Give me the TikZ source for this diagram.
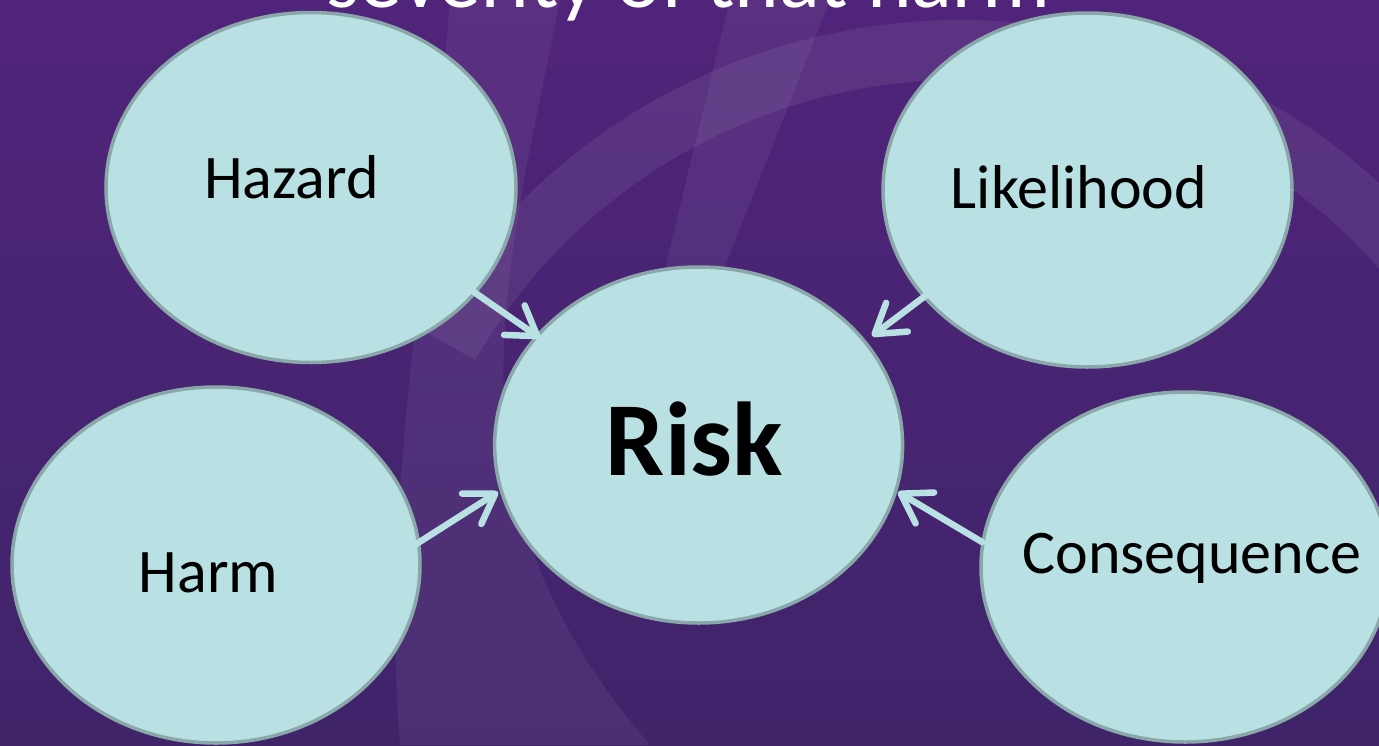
\documentclass[tikz,border=0pt]{standalone}
\usepackage{fontspec}
\setmainfont{Carlito}
\usetikzlibrary{shapes.geometric,arrows.meta}
\definecolor{bgtop}{RGB}{80,36,122}
\definecolor{bgbot}{RGB}{63,36,106}
\definecolor{bubfill}{RGB}{185,224,227}
\definecolor{bubline}{RGB}{138,168,170}
\definecolor{arrcol}{RGB}{185,224,227}
\tikzset{
  bubble/.style={ellipse, draw=bubline, line width=3.5pt, fill=bubfill, inner sep=0pt},
  lbl/.style={anchor=base, inner sep=0pt, text=black, font=\fontsize{62}{74}\selectfont},
  conn/.style={draw=arrcol, line width=6.5pt, line cap=round,
    -{Straight Barb[length=28pt, width=36pt, line cap=round, line join=round]}},
  glow/.style={white, opacity=0.06}
}
\begin{document}
\begin{tikzpicture}[x=1pt, y=-1pt]
\useasboundingbox (0,0) rectangle (1379,745);
\clip (0,0) rectangle (1379,745);
% background
\shade[top color=bgtop, bottom color=bgbot] (0,0) rectangle (1379,745);
% faint decorative bands
\fill[glow] (450,0) -- (560,0) .. controls (500,300) and (440,500) .. (650,745) -- (400,745) .. controls (380,500) and (430,250) .. (450,0) -- cycle;
\draw[white, opacity=0.07, line width=60pt] (960,640) ++(-150:590) arc[start angle=-150, end angle=-5, radius=590];
\fill[glow] (730,0) -- (830,0) -- (700,330) -- (650,330) -- cycle;
% top text (cut off, as in the reference)
\node[anchor=base, inner sep=0pt, text=white, font=\fontsize{85}{100}\selectfont] (title) at (688,7.5) {severity of that harm};
% bubbles
\node[bubble, minimum width=410pt, minimum height=350pt] (hazard) at (311,187.5) {};
\node[bubble, minimum width=409pt, minimum height=354pt] (likelihood) at (1087.5,190) {};
\node[bubble, minimum width=408pt, minimum height=356pt] (harm) at (216,565) {};
\node[bubble, minimum width=408pt, minimum height=350pt] (consequence) at (1185,567) {};
\node[bubble, minimum width=408pt, minimum height=356pt] (risk) at (698.6,445) {};
% labels
\node[lbl] (tHazard) at (291.5,198) {Hazard};
\node[lbl] (tLikelihood) at (1079,208) {Likelihood};
\node[lbl] (tHarm) at (208.5,592) {Harm};
\node[lbl] (tConsequence) at (1192,573) {Consequence};
\node[anchor=base, inner sep=0pt, font=\bfseries\fontsize{105}{120}\selectfont] (tRisk) at (694.5,475) {Risk};
% connector end points
\coordinate (hzS) at (438,267);
\coordinate (hzT) at (540,338);
\coordinate (lkS) at (973,260);
\coordinate (lkT) at (872,336);
\coordinate (hmS) at (410,548);
\coordinate (hmT) at (498,492);
\coordinate (csS) at (982,542);
\coordinate (csT) at (898,492);
\draw[conn] (hzS) -- (hzT);
\draw[conn] (lkS) -- (lkT);
\draw[conn] (hmS) -- (hmT);
\draw[conn] (csS) -- (csT);
\end{tikzpicture}
\end{document}
